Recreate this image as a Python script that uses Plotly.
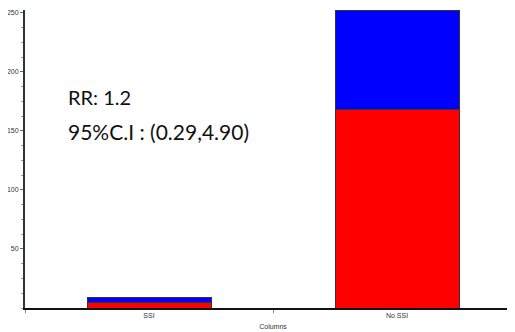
import plotly.graph_objects as go

categories = ["SSI", "No SSI"]
red_values = [5, 168]
blue_values = [4, 84]
y_tick_vals = [50, 100, 150, 200, 250]
rr_text = "RR: 1.2"
ci_text = "95%C.I : (0.29,4.90)"
x_title = "Columns"

fig = go.Figure()
fig.add_trace(go.Bar(x=categories, y=red_values, marker=dict(color="#FF0000", line=dict(color="#333333", width=1)), width=0.5, showlegend=False))
fig.add_trace(go.Bar(x=categories, y=blue_values, marker=dict(color="#0000FF", line=dict(color="#333333", width=1)), width=0.5, showlegend=False))

# page body has an 8px margin; figure coords = screen coords - 8
W, H = 515, 332
L, R, T, B = 17, 2, 2, 32
fig.update_layout(
    barmode="stack",
    width=W, height=H,
    margin=dict(l=L, r=R, t=T, b=B, pad=0, autoexpand=False),
    paper_bgcolor="white", plot_bgcolor="white",
    font=dict(family="Liberation Sans Narrow, Liberation Sans, Arial", size=7, color="#333333"),
)
fig.update_xaxes(
    type="category", range=[-0.5, 1.5], automargin=False,
    showline=True, linecolor="#111111", linewidth=2,
    ticks="outside", tickson="boundaries", ticklen=3, tickcolor="#888888",
    showgrid=False, zeroline=False,
    tickfont=dict(size=7, color="#333333"),
    title=dict(text=x_title, font=dict(size=7, color="#333333"), standoff=6),
)
fig.update_yaxes(
    range=[0, 252.5], automargin=False,
    tickvals=y_tick_vals,
    showline=True, linecolor="#333333", linewidth=2,
    ticks="outside", ticklen=3, tickcolor="#666666",
    minor=dict(dtick=12.5, ticks="outside", ticklen=2, tickcolor="#999999", showgrid=False),
    showgrid=False, zeroline=False,
    tickfont=dict(size=7, color="#333333"),
)
PW, PH = W - L - R, H - T - B
fig.add_annotation(xref="paper", yref="paper", x=(66 - 8 - L) / PW, y=(H - B - (97 - 8)) / PH,
                   text=rr_text, showarrow=False, xanchor="left", yanchor="middle",
                   font=dict(family="Lato, Open Sans", size=20, color="#111111"))
fig.add_annotation(xref="paper", yref="paper", x=(66 - 8 - L) / PW, y=(H - B - (131 - 8)) / PH,
                   text=ci_text, showarrow=False, xanchor="left", yanchor="middle",
                   font=dict(family="Lato, Open Sans", size=21, color="#111111"))
fig.write_html("out.html")
